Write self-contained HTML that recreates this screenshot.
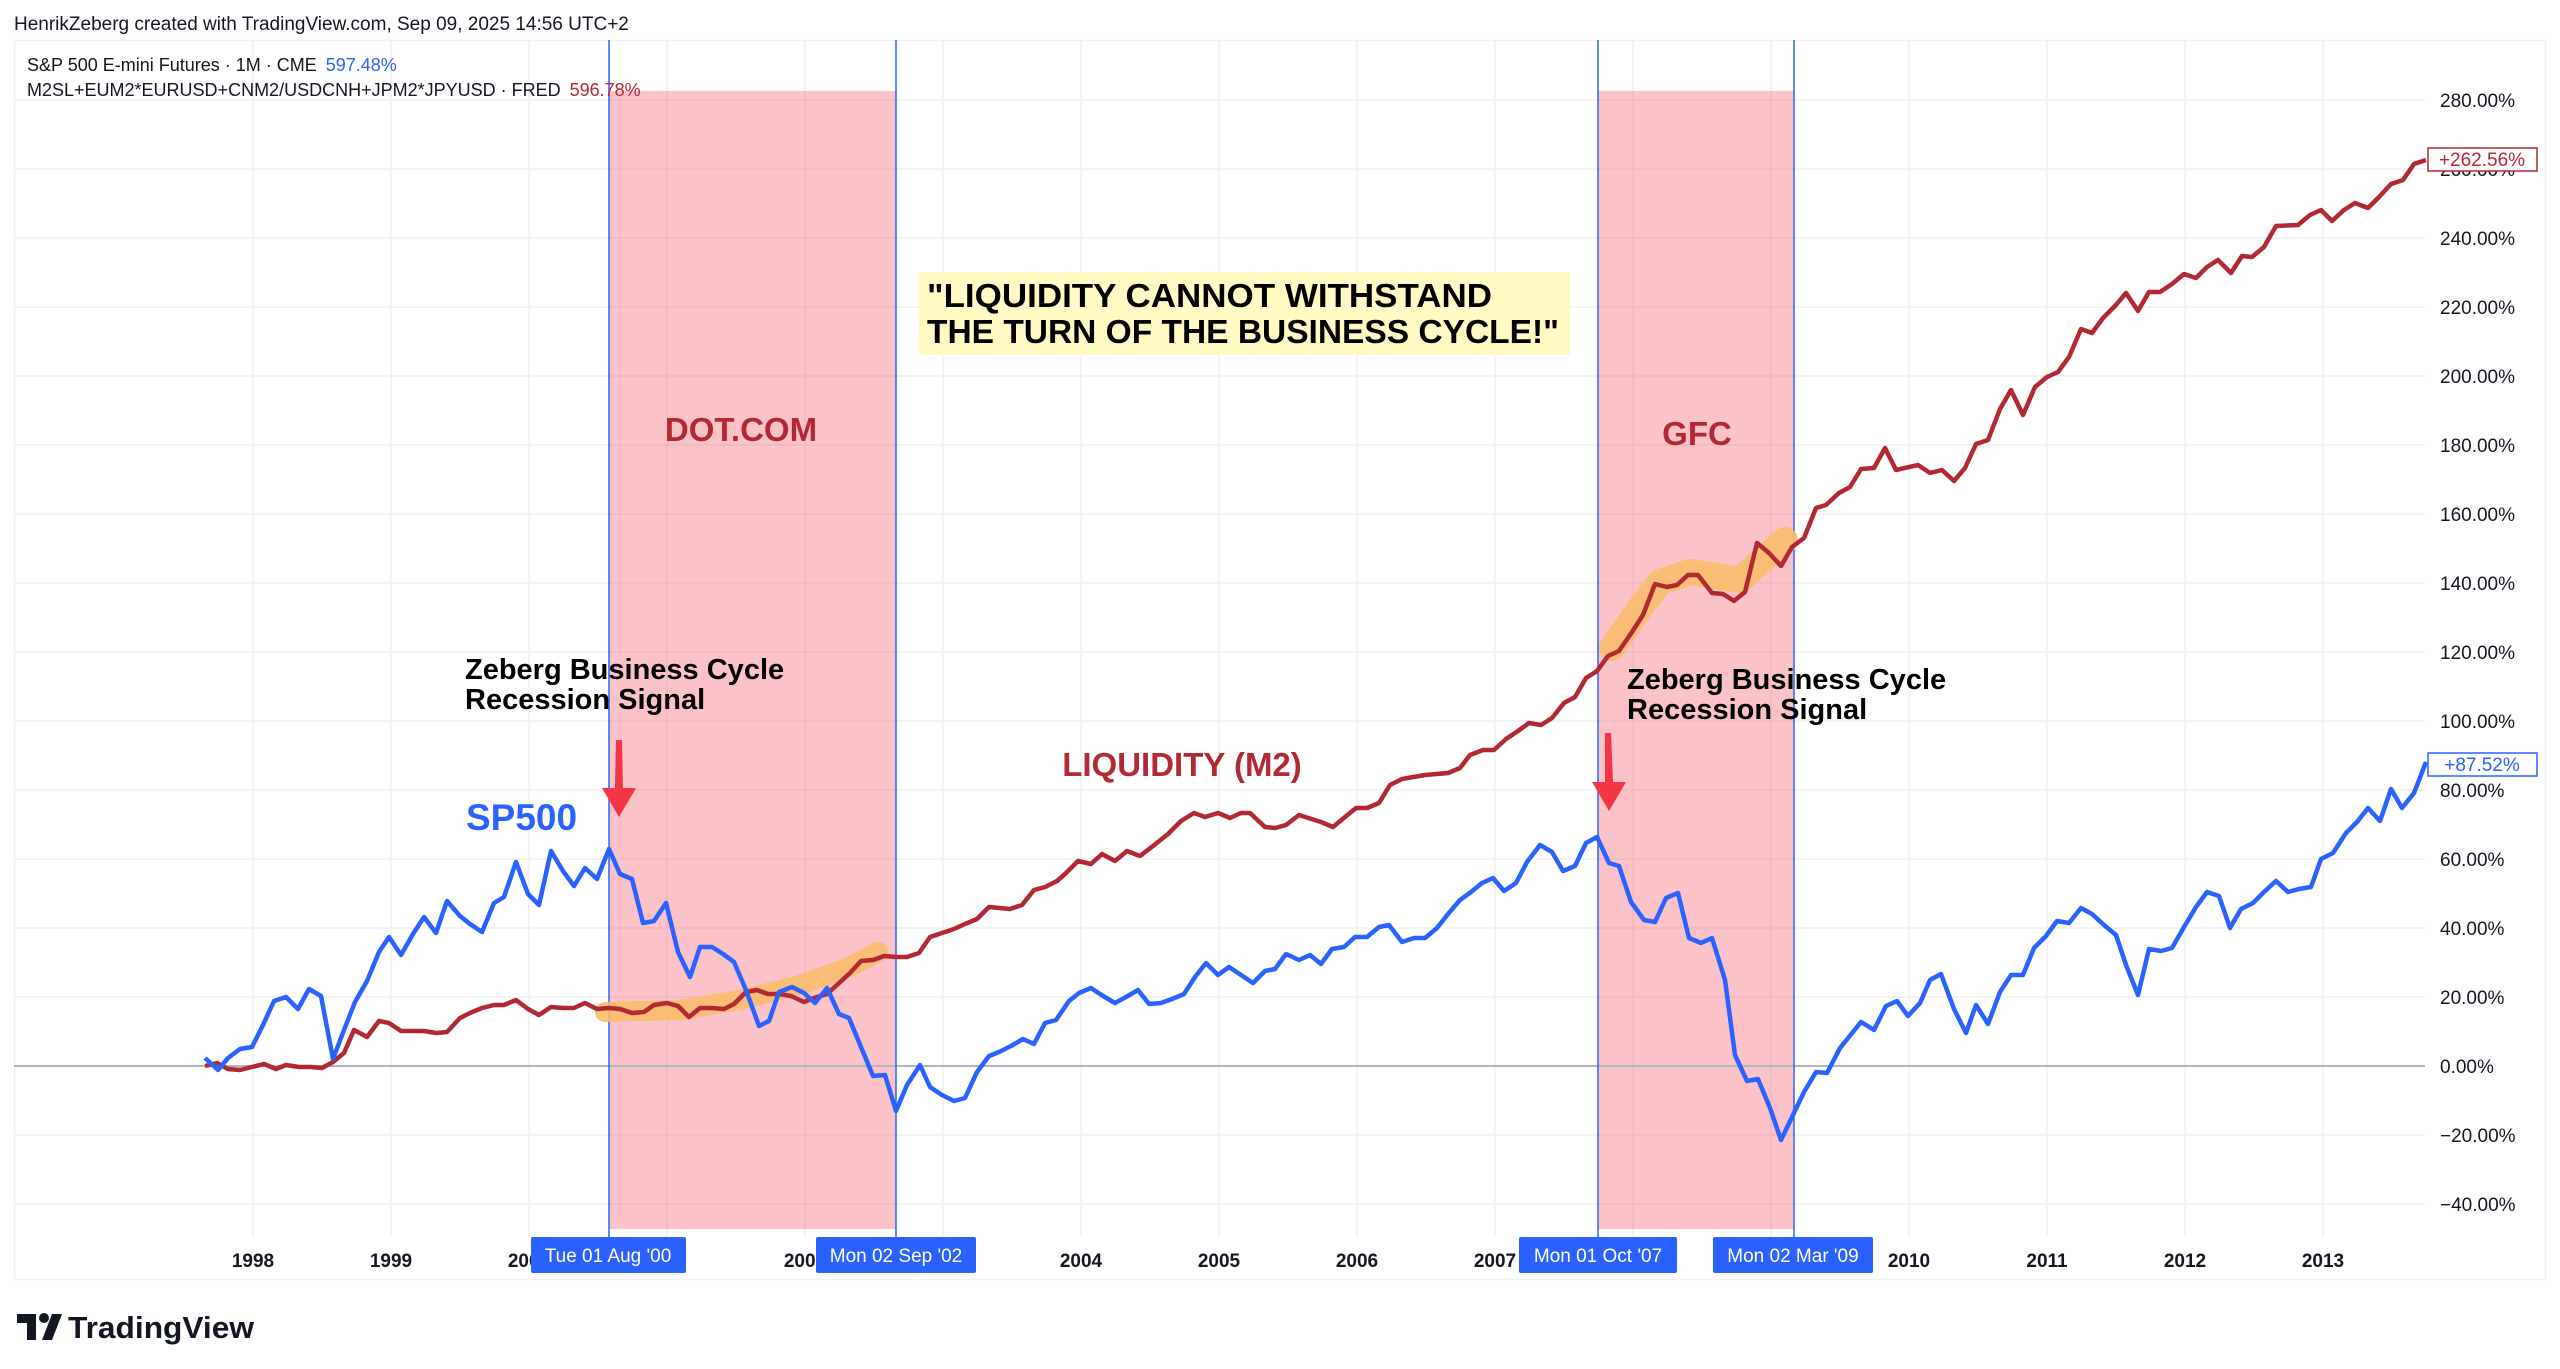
<!DOCTYPE html>
<html><head><meta charset="utf-8"><style>
html,body{margin:0;padding:0;background:#fff;}
svg{display:block;font-family:"Liberation Sans",sans-serif;}
</style></head><body>
<svg width="2560" height="1369" viewBox="0 0 2560 1369" xmlns="http://www.w3.org/2000/svg">
<rect width="2560" height="1369" fill="#fff"/>
<text x="14" y="30" font-size="19" fill="#131722">HenrikZeberg created with TradingView.com, Sep 09, 2025 14:56 UTC+2</text>
<rect x="14.5" y="40.5" width="2531" height="1239" fill="none" stroke="#eef0f3" stroke-width="1.5"/>
<!-- grid -->
<g stroke="#f0f1f4" stroke-width="1.5">
<line x1="14" y1="100" x2="2425" y2="100"/><line x1="14" y1="169" x2="2425" y2="169"/><line x1="14" y1="238" x2="2425" y2="238"/><line x1="14" y1="307" x2="2425" y2="307"/><line x1="14" y1="376" x2="2425" y2="376"/><line x1="14" y1="445" x2="2425" y2="445"/><line x1="14" y1="514" x2="2425" y2="514"/><line x1="14" y1="583" x2="2425" y2="583"/><line x1="14" y1="652" x2="2425" y2="652"/><line x1="14" y1="721" x2="2425" y2="721"/><line x1="14" y1="790" x2="2425" y2="790"/><line x1="14" y1="859" x2="2425" y2="859"/><line x1="14" y1="928" x2="2425" y2="928"/><line x1="14" y1="997" x2="2425" y2="997"/><line x1="14" y1="1135" x2="2425" y2="1135"/><line x1="14" y1="1204" x2="2425" y2="1204"/>
<line x1="253" y1="40" x2="253" y2="1237"/><line x1="391" y1="40" x2="391" y2="1237"/><line x1="529" y1="40" x2="529" y2="1237"/><line x1="667" y1="40" x2="667" y2="1237"/><line x1="805" y1="40" x2="805" y2="1237"/><line x1="943" y1="40" x2="943" y2="1237"/><line x1="1081" y1="40" x2="1081" y2="1237"/><line x1="1219" y1="40" x2="1219" y2="1237"/><line x1="1357" y1="40" x2="1357" y2="1237"/><line x1="1495" y1="40" x2="1495" y2="1237"/><line x1="1633" y1="40" x2="1633" y2="1237"/><line x1="1771" y1="40" x2="1771" y2="1237"/><line x1="1909" y1="40" x2="1909" y2="1237"/><line x1="2047" y1="40" x2="2047" y2="1237"/><line x1="2185" y1="40" x2="2185" y2="1237"/><line x1="2323" y1="40" x2="2323" y2="1237"/>
</g>
<!-- shaded -->
<rect x="609" y="91" width="287" height="1138" fill="#f23645" fill-opacity="0.3"/>
<rect x="1598" y="91" width="196" height="1138" fill="#f23645" fill-opacity="0.3"/>
<line x1="14" y1="1066" x2="2425" y2="1066" stroke="#b2b5be" stroke-width="2"/>
<g stroke="#2962ff" stroke-width="1.5">
<line x1="609" y1="40" x2="609" y2="1237"/><line x1="896" y1="40" x2="896" y2="1237"/>
<line x1="1598" y1="40" x2="1598" y2="1237"/><line x1="1794" y1="40" x2="1794" y2="1237"/>
</g>
<!-- orange bands -->
<g fill="none" stroke="#f9bd6b" stroke-linecap="round" stroke-linejoin="round" stroke-opacity="0.9">
<polyline stroke-width="20" points="605,1012 680,1010 740,1000 800,985 850,967 878,952"/>
<polyline stroke-width="26" points="1612,648 1640,608 1660,582 1690,572 1740,580 1762,560 1785,540"/>
</g>
<!-- red series -->
<polyline fill="none" stroke="#b22833" stroke-width="4.5" stroke-linejoin="round" points="205,1066 217,1063 228,1069 240,1070 252,1067 264,1064 276,1069 286,1065 299,1067 311,1067 322,1068 333,1062 344,1053 354,1030 367,1037 379,1021 389,1023 401,1031 424,1031 436,1033 447,1032 460,1018 470,1013 482,1008 494,1005 504,1005 516,1000 528,1009 539,1015 551,1007 563,1008 574,1008 585,1003 597,1009 609,1008 620,1009 632,1013 644,1012 654,1005 667,1003 678,1006 689,1017 700,1008 711,1008 724,1009 734,1004 746,992 757,990 768,994 779,994 791,996 804,1002 814,998 827,994 838,984 850,973 861,961 873,960 884,956 896,957 907,957 919,953 930,937 942,933 954,929 965,924 977,919 989,907 1010,909 1022,905 1034,890 1045,887 1057,881 1065,874 1078,861 1091,864 1102,854 1115,861 1127,851 1140,856 1153,846 1168,834 1181,821 1194,813 1205,817 1218,813 1230,818 1241,813 1250,813 1265,827 1275,828 1286,825 1299,815 1321,822 1333,827 1345,817 1356,808 1367,808 1379,803 1390,785 1402,779 1425,775 1448,773 1460,768 1470,755 1483,750 1494,750 1506,739 1518,731 1529,723 1541,725 1552,718 1564,703 1575,697 1586,678 1597,671 1608,656 1619,651 1632,632 1643,615 1655,584 1667,587 1677,585 1688,575 1698,575 1712,593 1723,594 1734,601 1745,592 1757,543 1769,553 1781,566 1792,547 1804,538 1816,508 1826,505 1839,493 1850,487 1861,469 1874,468 1885,448 1896,470 1918,465 1930,473 1942,470 1954,481 1965,468 1976,444 1988,440 2000,409 2011,390 2023,415 2035,387 2047,377 2058,372 2069,357 2081,329 2092,333 2103,318 2115,306 2126,293 2138,311 2149,292 2160,292 2172,284 2184,274 2196,278 2207,267 2218,260 2231,273 2242,256 2252,257 2264,247 2276,226 2298,225 2310,215 2321,210 2332,221 2344,210 2355,203 2368,208 2380,196 2391,184 2403,180 2414,164 2426,160"/>
<!-- blue series -->
<polyline fill="none" stroke="#2962ff" stroke-width="4.5" stroke-linejoin="round" points="205,1058 218,1070 228,1058 240,1049 252,1047 263,1025 274,1001 286,997 298,1009 309,989 321,996 333,1059 344,1030 355,1002 367,981 379,952 389,937 401,955 413,934 424,917 436,933 447,901 460,916 470,924 482,932 494,903 504,897 516,862 528,894 539,905 551,851 563,871 574,886 585,868 597,879 609,849 620,874 632,879 643,923 654,921 666,903 678,952 690,977 700,947 712,947 723,954 734,962 746,990 759,1026 769,1021 779,992 792,987 804,993 815,1003 827,988 839,1014 849,1018 861,1047 873,1076 885,1075 896,1111 907,1085 920,1065 930,1087 942,1095 954,1101 965,1098 977,1072 989,1056 999,1052 1011,1046 1023,1039 1034,1044 1045,1023 1056,1020 1069,1001 1079,993 1091,988 1103,996 1115,1003 1126,997 1138,990 1149,1004 1161,1003 1172,999 1184,994 1195,977 1206,963 1218,975 1229,967 1241,975 1253,983 1265,971 1275,969 1286,954 1299,960 1310,955 1321,964 1332,949 1344,947 1355,937 1367,937 1379,927 1389,925 1402,942 1414,938 1425,938 1437,928 1448,914 1460,900 1471,892 1482,883 1493,878 1504,891 1516,883 1527,862 1540,845 1552,852 1563,871 1575,866 1586,843 1597,837 1609,863 1619,866 1631,902 1644,920 1655,922 1666,898 1678,893 1689,938 1701,943 1712,938 1725,980 1735,1055 1747,1081 1758,1079 1770,1108 1781,1140 1793,1115 1804,1092 1816,1072 1827,1073 1840,1048 1861,1022 1874,1030 1886,1006 1897,1001 1908,1016 1920,1003 1930,980 1941,974 1954,1009 1966,1033 1976,1005 1988,1024 2000,992 2011,975 2023,975 2034,948 2046,936 2057,921 2069,923 2081,908 2092,914 2104,925 2116,935 2126,965 2138,995 2149,949 2161,951 2172,948 2184,927 2196,907 2207,892 2219,896 2230,928 2241,909 2253,903 2264,892 2276,881 2288,892 2299,889 2311,887 2321,859 2333,853 2346,833 2357,822 2368,808 2380,821 2391,789 2402,808 2414,793 2426,762"/>
<!-- legend -->
<text x="27" y="71" font-size="18" fill="#131722">S&amp;P 500 E-mini Futures · 1M · CME <tspan fill="#2962ff" dx="4">597.48%</tspan></text>
<text x="27" y="96" font-size="18" fill="#131722">M2SL+EUM2*EURUSD+CNM2/USDCNH+JPM2*JPYUSD · FRED <tspan fill="#b22833" dx="4">596.78%</tspan></text>
<!-- annotations -->
<rect x="919" y="272" width="651" height="83" fill="#fff9c4"/>
<text x="927" y="307" font-size="33" font-weight="bold" fill="#000" textLength="565" lengthAdjust="spacingAndGlyphs">"LIQUIDITY CANNOT WITHSTAND</text>
<text x="927" y="343" font-size="33" font-weight="bold" fill="#000" textLength="632" lengthAdjust="spacingAndGlyphs">THE TURN OF THE BUSINESS CYCLE!"</text>
<text x="741" y="441" font-size="33" font-weight="bold" fill="#b22833" text-anchor="middle">DOT.COM</text>
<text x="1697" y="445" font-size="33" font-weight="bold" fill="#b22833" text-anchor="middle">GFC</text>
<text x="1182" y="776" font-size="33" font-weight="bold" fill="#b22833" text-anchor="middle">LIQUIDITY (M2)</text>
<text x="466" y="830" font-size="37" font-weight="bold" fill="#2962ff">SP500</text>
<text x="465" y="679" font-size="29" font-weight="bold" fill="#000">Zeberg Business Cycle</text>
<text x="465" y="709" font-size="29" font-weight="bold" fill="#000">Recession Signal</text>
<text x="1627" y="689" font-size="29" font-weight="bold" fill="#000">Zeberg Business Cycle</text>
<text x="1627" y="719" font-size="29" font-weight="bold" fill="#000">Recession Signal</text>
<g fill="#f23645">
<polygon points="616,740 622,740 623,788 636,788 619,817 602,788 615,788"/>
<polygon points="1605,733 1611,733 1613,782 1626,782 1609,811 1592,782 1605,782"/>
</g>
<!-- y axis labels -->
<g font-size="19" fill="#131722">
<text x="2440" y="107">280.00%</text><text x="2440" y="176">260.00%</text><text x="2440" y="245">240.00%</text><text x="2440" y="314">220.00%</text><text x="2440" y="383">200.00%</text><text x="2440" y="452">180.00%</text><text x="2440" y="521">160.00%</text><text x="2440" y="590">140.00%</text><text x="2440" y="659">120.00%</text><text x="2440" y="728">100.00%</text><text x="2440" y="797">80.00%</text><text x="2440" y="866">60.00%</text><text x="2440" y="935">40.00%</text><text x="2440" y="1004">20.00%</text><text x="2440" y="1073">0.00%</text><text x="2440" y="1142">−20.00%</text><text x="2440" y="1211">−40.00%</text>
</g>
<rect x="2428" y="148" width="109" height="23" fill="#fff" stroke="#b22833" stroke-width="1.5"/>
<text x="2482" y="166" font-size="19" fill="#b22833" text-anchor="middle">+262.56%</text>
<rect x="2428" y="753" width="109" height="23" fill="#fff" stroke="#2962ff" stroke-width="1.5"/>
<text x="2482" y="771" font-size="19" fill="#2962ff" text-anchor="middle">+87.52%</text>
<!-- x axis -->
<g font-size="19" fill="#131722" text-anchor="middle" font-weight="bold">
<text x="253" y="1267">1998</text><text x="391" y="1267">1999</text><text x="529" y="1267">2000</text><text x="805" y="1267">2002</text><text x="1081" y="1267">2004</text><text x="1219" y="1267">2005</text><text x="1357" y="1267">2006</text><text x="1495" y="1267">2007</text><text x="1909" y="1267">2010</text><text x="2047" y="1267">2011</text><text x="2185" y="1267">2012</text><text x="2323" y="1267">2013</text>
</g>
<g fill="#2962ff"><rect x="531" y="1237" width="155" height="36" rx="2"/><rect x="816" y="1237" width="160" height="36" rx="2"/><rect x="1519" y="1237" width="158" height="36" rx="2"/><rect x="1713" y="1237" width="160" height="36" rx="2"/></g>
<g font-size="19" fill="#fff" text-anchor="middle">
<text x="608" y="1262">Tue 01 Aug '00</text><text x="896" y="1262">Mon 02 Sep '02</text><text x="1598" y="1262">Mon 01 Oct '07</text><text x="1793" y="1262">Mon 02 Mar '09</text>
</g>
<!-- logo -->
<g fill="#131722">
<rect x="17" y="1314" width="19" height="9"/><rect x="27" y="1314" width="9" height="26"/>
<circle cx="44" cy="1318" r="5"/>
<polygon points="52,1314 62,1314 52,1340 42,1340"/>
</g>
<text x="68" y="1338" font-size="31" font-weight="bold" fill="#131722" textLength="186" lengthAdjust="spacingAndGlyphs">TradingView</text>
</svg>
</body></html>
